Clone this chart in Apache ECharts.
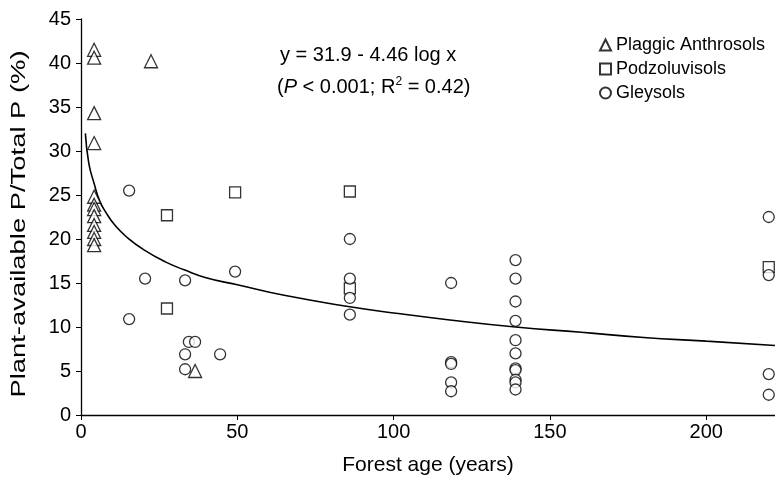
<!DOCTYPE html>
<html>
<head>
<meta charset="utf-8">
<script src="https://cdn.jsdelivr.net/npm/echarts@6/dist/echarts.min.js"></script>
<style>
  html, body { margin: 0; padding: 0; background: #fff; }
  #main { width: 775px; height: 481px; }
</style>
</head>
<body>
<div id="main"></div>
<script>
// forest age (years) and plant-available P / total P (%)
var anthrosols = [
  [4.2, 41.5], [4.2, 40.6], [22.4, 40.2], [4.2, 34.3], [4.2, 30.9],
  [4.2, 24.8], [4.2, 23.9], [4.2, 23.4], [4.2, 22.6], [4.2, 21.6],
  [4.2, 20.8], [4.2, 20.0], [4.2, 19.3], [36.5, 5.0]
];
var podzoluvisols = [
  [27.5, 22.7], [27.5, 12.1], [49.3, 25.3], [86, 25.4], [86, 14.4], [220, 16.8]
];
var gleysols = [
  [15.4, 25.5], [15.4, 10.9], [20.5, 15.5], [33.3, 15.3], [33.3, 6.9],
  [33.3, 5.2], [34.5, 8.3], [36.5, 8.3], [44.5, 6.9], [49.3, 16.3],
  [86, 20.0], [86, 15.5], [86, 13.3], [86, 11.4],
  [118.4, 15.0], [118.4, 6.0], [118.4, 5.8], [118.4, 3.7], [118.4, 2.7],
  [139, 17.6], [139, 15.5], [139, 12.9], [139, 10.7], [139, 8.5], [139, 7.0],
  [139, 5.3], [139, 5.1], [139, 4.0], [139, 3.7], [139, 2.9],
  [220, 22.5], [220, 15.9], [220, 4.65], [220, 2.3]
];
// fitted curve
var fitLine = [
  [1.4, 32.0], [2.5, 28.6], [4.2, 26.3], [6, 24.3], [8, 23.0], [11, 21.5],
  [15, 20.1], [20, 18.8], [27, 17.4], [33, 16.5], [40, 15.6], [50, 14.8],
  [65, 13.6], [86, 12.3], [100, 11.6], [118, 10.8], [139, 10.0],
  [160, 9.4], [180, 8.8], [200, 8.4], [222, 7.9]
];
var xTicks = { min: 0, max: 222, interval: 50 };
var yTicks = { min: 0, max: 45, interval: 5 };

var font = "Liberation Sans";
var markStyle = { color: "#fff", borderColor: "#000", borderWidth: 1.3 };

var myChart = echarts.init(document.getElementById("main"));
myChart.setOption({
  animation: false,
  backgroundColor: "#fff",
  textStyle: { fontFamily: font, color: "#000" },
  grid: { left: 81, right: 0, top: 19, bottom: 66, containLabel: false },
  xAxis: {
    type: "value",
    min: xTicks.min,
    max: xTicks.max,
    interval: xTicks.interval,
    name: "Forest age (years)",
    nameLocation: "middle",
    nameGap: 40,
    nameTextStyle: { fontSize: 21, color: "#000", fontFamily: font },
    axisLine: { onZero: false, lineStyle: { color: "#000", width: 1.3 } },
    axisTick: { length: 5, lineStyle: { color: "#000" } },
    axisLabel: { fontSize: 20, color: "#000", margin: 7, showMaxLabel: false },
    splitLine: { show: false },
  },
  yAxis: {
    type: "value",
    min: yTicks.min,
    max: yTicks.max,
    interval: yTicks.interval,
    axisLine: { onZero: false, lineStyle: { color: "#000", width: 1.3 } },
    axisTick: { length: 5, lineStyle: { color: "#000" } },
    axisLabel: { fontSize: 20, color: "#000", margin: 10 },
    splitLine: { show: false },
  },
  legend: {
    orient: "vertical",
    left: 594,
    top: 31,
    itemWidth: 11,
    itemHeight: 11,
    itemGap: 6,
    textStyle: { fontSize: 18, color: "#000", fontFamily: font },
    data: [
      { name: "Plaggic Anthrosols", icon: "triangle" },
      { name: "Podzoluvisols", icon: "rect" },
      { name: "Gleysols", icon: "circle" },
    ],
  },
  graphic: [
    {
      // y axis title, stretched along its length like the original
      type: "text",
      x: 19,
      y: 224,
      rotation: Math.PI / 2,
      scaleX: 1.37,
      style: {
        text: "Plant-available P/Total P (%)",
        fontSize: 20,
        fontFamily: font,
        fill: "#000",
        align: "center",
        verticalAlign: "middle",
      },
    },
    {
      type: "text",
      left: 280,
      top: 45,
      style: { text: "y = 31.9 - 4.46 log x", fontSize: 20, fontFamily: font, fill: "#000" },
    },
    {
      type: "text",
      left: 277,
      top: 76,
      style: {
        text: "({i|P} < 0.001; R{s|2} = 0.42)",
        fontSize: 20,
        fontFamily: font,
        fill: "#000",
        rich: {
          i: { fontStyle: "italic", fontSize: 20, fontFamily: font },
          s: { fontSize: 12, fontFamily: font, verticalAlign: "top", padding: [0, 0, 10, 0] },
        },
      },
    },
  ],
  series: [
    {
      name: "fit",
      type: "line",
      data: fitLine,
      smooth: true,
      showSymbol: false,
      silent: true,
      lineStyle: { color: "#000", width: 1.6 },
      z: 1,
    },
    {
      name: "Plaggic Anthrosols",
      type: "scatter",
      symbol: "triangle",
      symbolSize: 13,
      data: anthrosols,
      itemStyle: markStyle,
      z: 3,
    },
    {
      name: "Podzoluvisols",
      type: "scatter",
      symbol: "rect",
      symbolSize: 11,
      data: podzoluvisols,
      itemStyle: markStyle,
      z: 3,
    },
    {
      name: "Gleysols",
      type: "scatter",
      symbol: "circle",
      symbolSize: 11,
      data: gleysols,
      itemStyle: markStyle,
      z: 3,
    },
  ],
});
</script>
</body>
</html>
